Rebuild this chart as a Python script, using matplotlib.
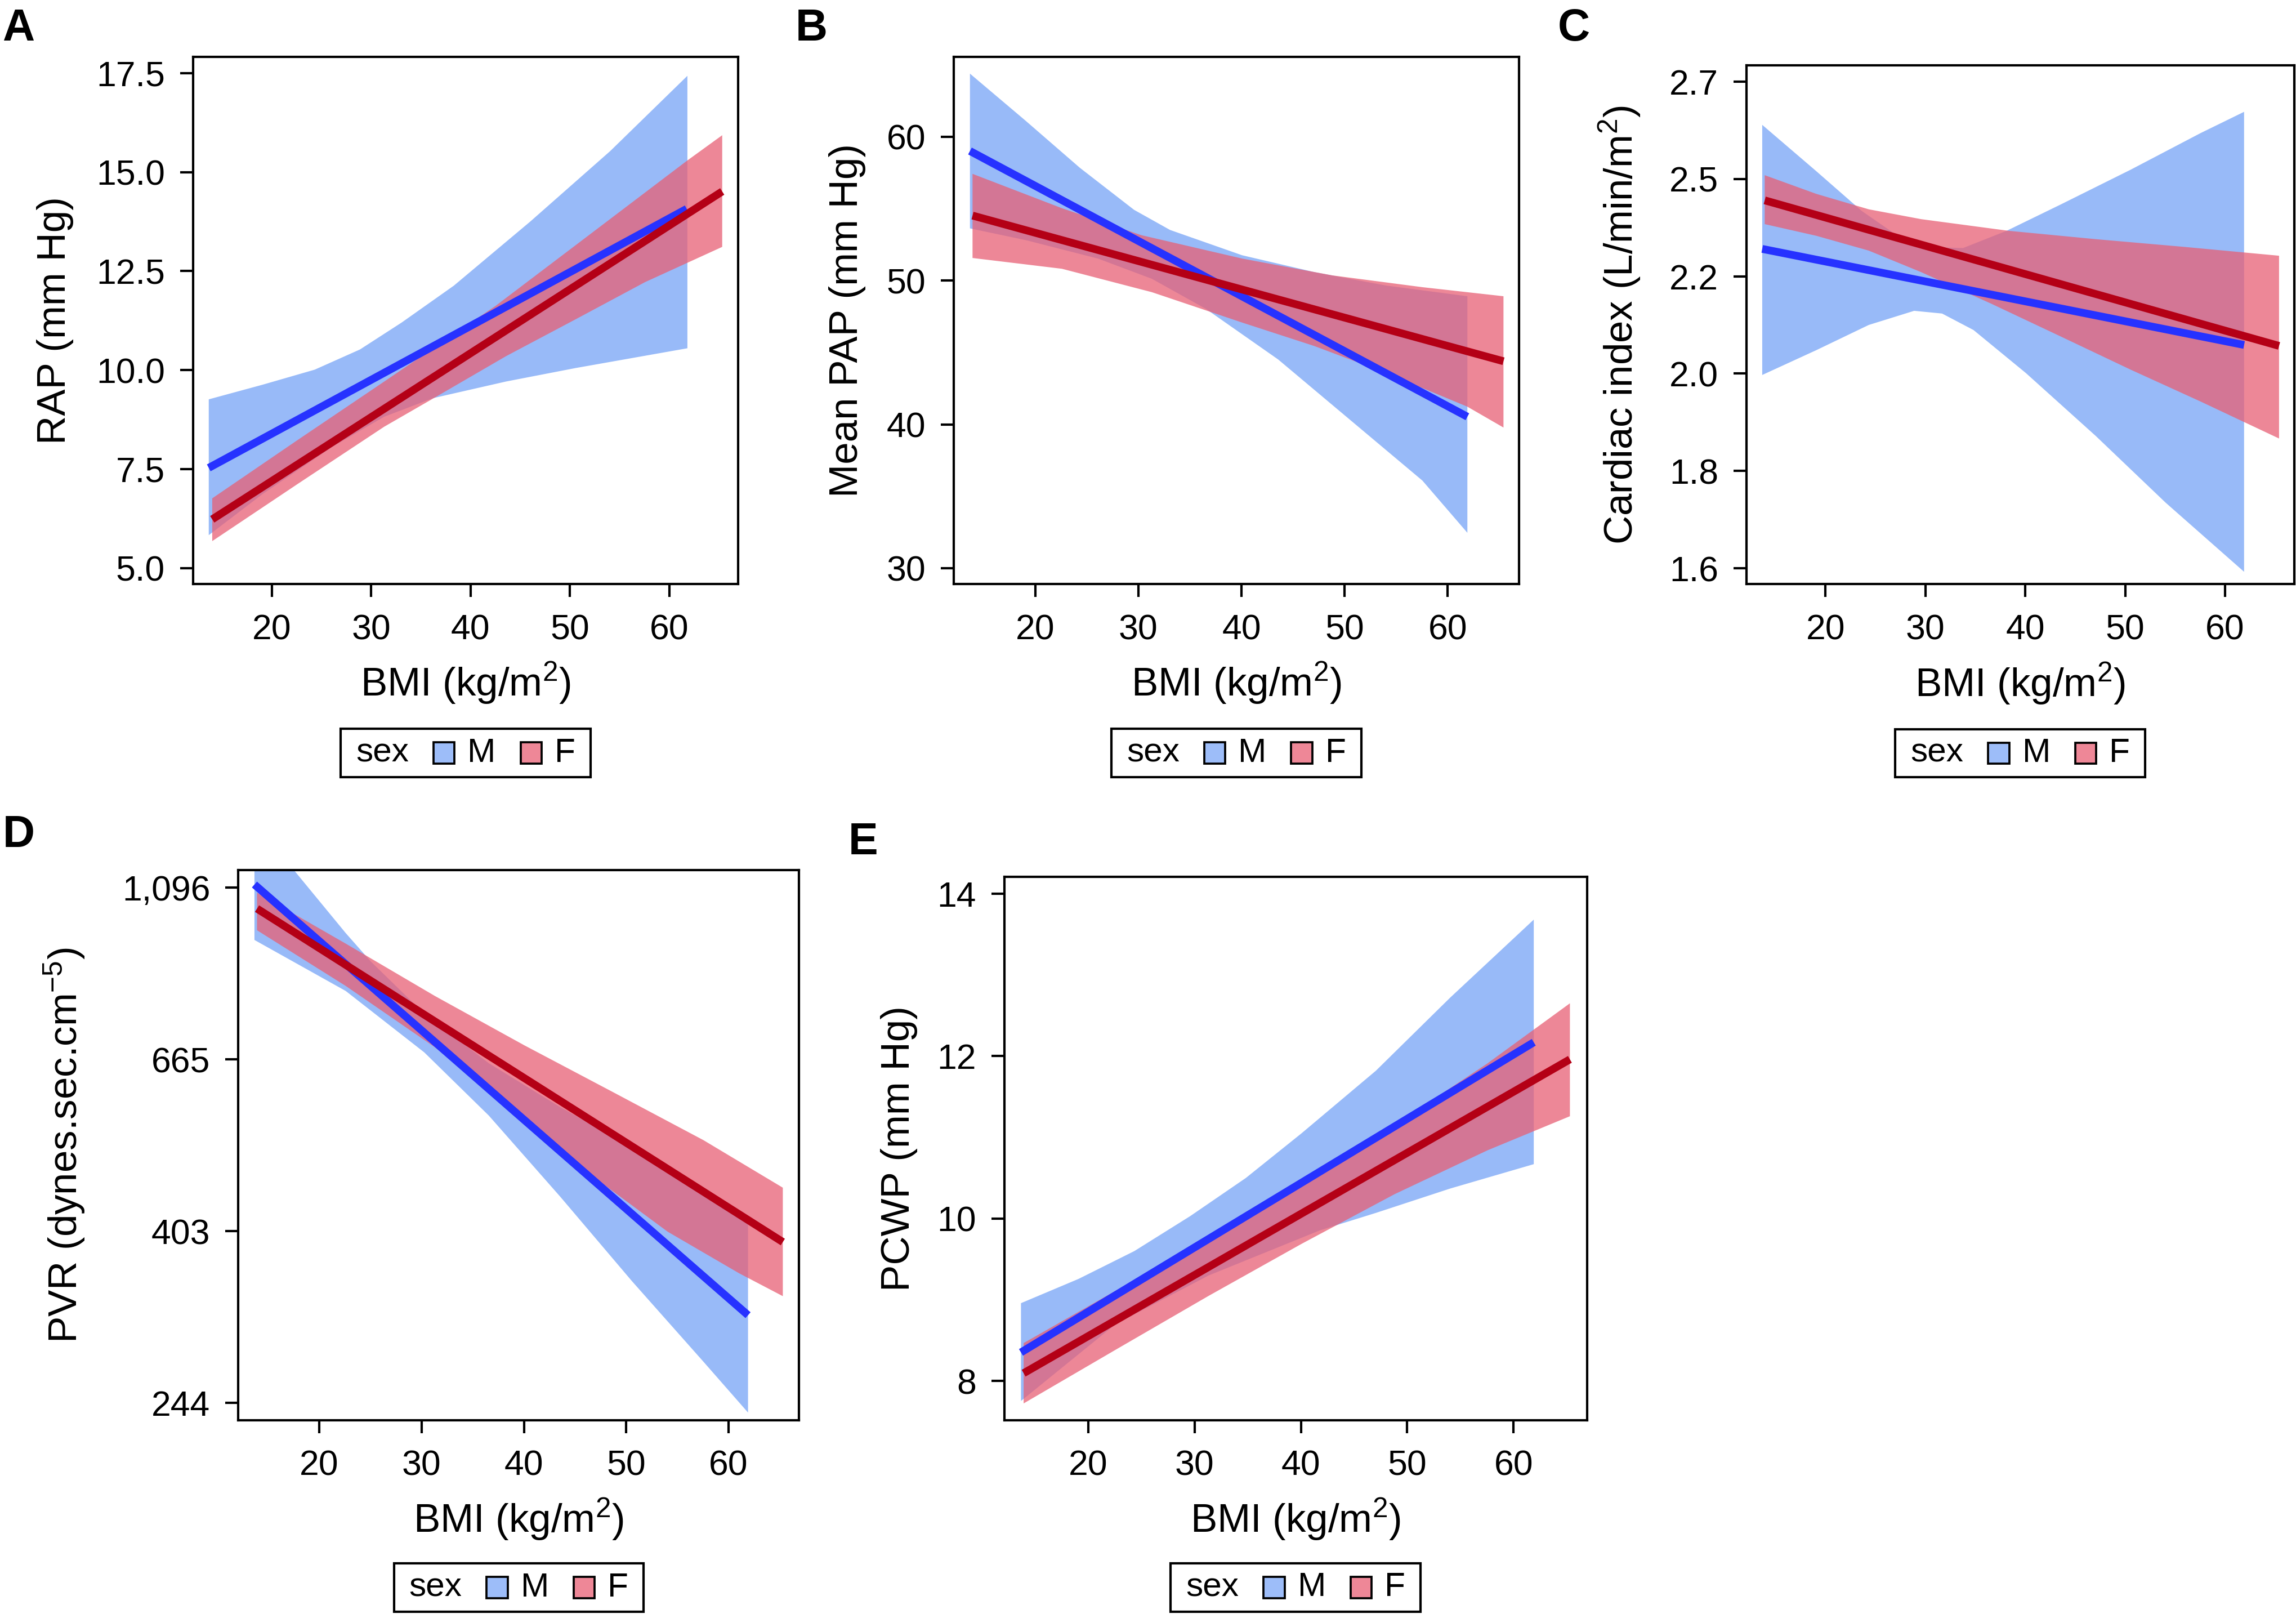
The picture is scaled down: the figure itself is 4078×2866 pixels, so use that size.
import numpy as np
import matplotlib.pyplot as plt
from matplotlib.patches import Rectangle
from matplotlib.ticker import NullLocator
from matplotlib.offsetbox import AnchoredOffsetbox, HPacker, TextArea, DrawingArea

plt.rcParams['font.family'] = 'Liberation Sans'
plt.rcParams['mathtext.fontset'] = 'custom'
plt.rcParams['mathtext.rm'] = 'Liberation Sans'
plt.rcParams['mathtext.it'] = 'Liberation Sans:italic'
plt.rcParams['mathtext.bf'] = 'Liberation Sans:bold'

# ---- A: RAP ----
a_m_line_x = [13.67, 61.73]
a_m_line_y = [7.53, 14.07]
a_m_up_x = [13.67, 19.09, 24.33, 28.88, 33.07, 38.31, 46.0, 54.04, 61.8]
a_m_up_y = [9.26, 9.63, 10.01, 10.52, 11.20, 12.13, 13.75, 15.53, 17.43]
a_m_lo_x = [13.67, 19.09, 26.08, 31.3, 36.22, 43.56, 50.55, 61.8]
a_m_lo_y = [5.83, 6.87, 8.06, 8.82, 9.29, 9.71, 10.05, 10.55]
a_f_line_x = [14.02, 65.3]
a_f_line_y = [6.23, 14.51]
a_f_up_x = [14.02, 22.59, 31.32, 42.51, 50.55, 61.73, 65.3]
a_f_up_y = [6.76, 8.23, 9.71, 11.62, 13.15, 15.28, 15.93]
a_f_lo_x = [14.02, 22.59, 31.32, 36.57, 43.56, 50.55, 57.54, 65.3]
a_f_lo_y = [5.68, 7.12, 8.57, 9.33, 10.35, 11.28, 12.22, 13.11]

# ---- B: mean PAP ----
b_m_line_x = [13.67, 61.9]
b_m_line_y = [59.01, 40.53]
b_m_up_x = [13.67, 19.09, 24.33, 29.58, 33.07, 40.06, 47.05, 54.04, 61.9]
b_m_up_y = [64.39, 61.1, 57.84, 54.92, 53.52, 51.76, 50.59, 49.65, 48.91]
b_m_lo_x = [13.67, 19.09, 26.08, 31.32, 36.57, 43.56, 50.55, 57.54, 61.9]
b_m_lo_y = [53.63, 52.81, 51.53, 50.12, 48.02, 44.51, 40.3, 36.09, 32.46]
b_f_line_x = [13.92, 65.4]
b_f_line_y = [54.52, 44.39]
b_f_up_x = [13.92, 22.59, 30.27, 40.06, 48.8, 57.54, 65.4]
b_f_up_y = [57.42, 55.03, 53.16, 51.53, 50.36, 49.54, 48.91]
b_f_lo_x = [13.92, 22.59, 31.32, 40.06, 47.05, 54.04, 61.9, 65.4]
b_f_lo_y = [51.57, 50.82, 49.19, 47.08, 45.45, 43.57, 41.23, 39.78]

# ---- C: cardiac index (log scale) ----
c_m_line_x = [13.67, 61.9]
c_m_line_y = [2.289, 2.074]
c_m_up_x = [13.67, 19.09, 23.63, 27.83, 30.62, 33.77, 38.14, 43.56, 50.55, 57.54, 61.9]
c_m_up_y = [2.600, 2.479, 2.380, 2.310, 2.293, 2.291, 2.332, 2.396, 2.483, 2.578, 2.635]
c_m_lo_x = [13.67, 19.09, 24.33, 28.88, 31.67, 34.82, 40.06, 47.05, 54.04, 61.9]
c_m_lo_y = [2.011, 2.063, 2.117, 2.148, 2.142, 2.106, 2.015, 1.889, 1.764, 1.643]
c_f_line_x = [13.92, 65.4]
c_f_line_y = [2.406, 2.072]
c_f_up_x = [13.92, 19.09, 24.33, 29.58, 38.31, 47.05, 55.78, 65.4]
c_f_up_y = [2.469, 2.422, 2.384, 2.360, 2.332, 2.312, 2.294, 2.273]
c_f_lo_x = [13.92, 19.09, 24.33, 29.58, 36.57, 43.56, 50.55, 57.54, 65.4]
c_f_lo_y = [2.348, 2.320, 2.285, 2.235, 2.164, 2.092, 2.022, 1.957, 1.884]

# ---- D: PVR (log scale) ----
d_m_line_x = [13.67, 61.9]
d_m_line_y = [1107, 316]
d_m_up_x = [13.67, 17.51, 22.59, 25.03, 30.27, 36.57, 43.56, 50.55, 57.54, 61.9]
d_m_up_y = [1312, 1155, 961, 885, 760, 658, 579, 515, 458, 412]
d_m_lo_x = [13.67, 22.59, 30.27, 36.57, 43.56, 50.55, 57.54, 61.9]
d_m_lo_y = [942, 812, 679, 565, 446, 349, 276, 238]
d_f_line_x = [13.92, 65.3]
d_f_line_y = [1032, 391]
d_f_up_x = [13.92, 22.59, 31.32, 40.06, 48.8, 57.54, 65.3]
d_f_up_y = [1081, 932, 800, 693, 604, 526, 458]
d_f_lo_x = [13.92, 22.59, 31.32, 40.06, 47.05, 54.04, 61.03, 65.3]
d_f_lo_y = [969, 824, 689, 559, 470, 403, 357, 334]

# ---- E: PCWP ----
e_m_line_x = [13.67, 61.9]
e_m_line_y = [8.353, 12.17]
e_m_up_x = [13.67, 19.09, 24.33, 29.58, 34.82, 40.06, 47.05, 54.04, 61.9]
e_m_up_y = [8.959, 9.258, 9.60, 10.03, 10.50, 11.05, 11.82, 12.72, 13.68]
e_m_lo_x = [13.67, 22.59, 31.32, 41.8, 47.05, 54.04, 61.9]
e_m_lo_y = [7.755, 8.703, 9.30, 9.856, 10.07, 10.37, 10.67]
e_f_line_x = [13.92, 65.3]
e_f_line_y = [8.097, 11.96]
e_f_up_x = [13.92, 22.59, 31.32, 40.06, 48.8, 57.54, 65.3]
e_f_up_y = [8.468, 9.113, 9.766, 10.44, 11.15, 11.91, 12.65]
e_f_lo_x = [13.92, 22.59, 31.32, 40.06, 48.8, 57.54, 65.3]
e_f_lo_y = [7.725, 8.387, 9.049, 9.689, 10.30, 10.84, 11.26]

x_ticks = [20, 30, 40, 50, 60]
a_ticks = [5.0, 7.5, 10.0, 12.5, 15.0, 17.5]
a_labels = ['5.0', '7.5', '10.0', '12.5', '15.0', '17.5']
b_ticks = [30, 40, 50, 60]
c_ticks_ln = [0.5, 0.6, 0.7, 0.8, 0.9, 1.0]
c_labels = ['1.6', '1.8', '2.0', '2.2', '2.5', '2.7']
d_ticks_ln = [5.5, 6.0, 6.5, 7.0]
d_labels = ['244', '403', '665', '1,096']
e_ticks = [8, 10, 12, 14]

M_BAND = (97/255, 150/255, 245/255)
F_BAND = (232/255, 95/255, 116/255)
M_KEY = '#9DBDF9'
F_KEY = '#EE8797'
M_LINE = '#2632FF'
F_LINE = '#B40016'

TICK_FS = 15
LABEL_FS = 17
XLIM = (12.1, 66.9)

fig = plt.figure(figsize=(4079 / 300, 2866 / 300), dpi=300)


def band(ax, ux, uy, lx, ly, color, alpha):
    xs = list(ux) + list(lx)[::-1]
    ys = list(uy) + list(ly)[::-1]
    ax.fill(xs, ys, color=color, alpha=alpha, lw=0)


def add_legend(ax, y):
    fs = 14.5
    kids = [TextArea('sex', textprops=dict(fontsize=fs))]
    for col, lab in [(M_KEY, 'M'), (F_KEY, 'F')]:
        da = DrawingArea(9, 9, 0, 0)
        da.add_artist(Rectangle((0, 0), 9, 9, facecolor=col, edgecolor='black', lw=0.9))
        kids.append(HPacker(children=[da, TextArea(lab, textprops=dict(fontsize=fs))],
                            sep=5.5, align='center', pad=0))
    inner = HPacker(children=kids, sep=10.5, align='center', pad=0)
    box = HPacker(children=[DrawingArea(2.8, 1), inner, DrawingArea(2.8, 1)],
                  sep=0, align='center', pad=0)
    ab = AnchoredOffsetbox(loc='upper center', child=box, pad=0.37, borderpad=0,
                           frameon=True, bbox_to_anchor=(0.5, y),
                           bbox_transform=ax.transAxes)
    ab.patch.set_linewidth(1.0)
    ab.patch.set_edgecolor('black')
    ax.add_artist(ab)


def panel(rect, m, f, ylab, ylab_x, xlab_y, leg_y, log=False):
    ax = fig.add_axes(rect)
    band(ax, m[2], m[3], m[4], m[5], M_BAND, 0.65)
    band(ax, f[2], f[3], f[4], f[5], F_BAND, 0.75)
    ax.plot(m[0], m[1], color=M_LINE, lw=3.3, solid_capstyle='butt')
    ax.plot(f[0], f[1], color=F_LINE, lw=3.3, solid_capstyle='butt')
    if log:
        ax.set_yscale('log')
    ax.set_xlim(*XLIM)
    ax.set_xticks(x_ticks)
    ax.tick_params(axis='both', direction='out', length=5.5, width=1.0,
                   labelsize=TICK_FS, color='black')
    ax.tick_params(axis='x', pad=6.9)
    ax.tick_params(axis='y', pad=6.5)
    for s in ax.spines.values():
        s.set_linewidth(1.0)
    ax.set_xlabel('BMI (kg/m$^2$)', fontsize=LABEL_FS)
    ax.set_ylabel(ylab, fontsize=LABEL_FS)
    ax.xaxis.set_label_coords(0.5, xlab_y)
    ax.yaxis.set_label_coords(ylab_x, 0.5)
    add_legend(ax, leg_y)
    return ax


ax = panel([0.0841, 0.638, 0.2373, 0.3268],
           (a_m_line_x, a_m_line_y, a_m_up_x, a_m_up_y, a_m_lo_x, a_m_lo_y),
           (a_f_line_x, a_f_line_y, a_f_up_x, a_f_up_y, a_f_lo_x, a_f_lo_y),
           'RAP (mm Hg)', -0.219, -0.144, -0.274)
ax.set_yticks(a_ticks)
ax.set_yticklabels(a_labels)
ax.set_ylim(4.59, 17.91)

ax = panel([0.4153, 0.638, 0.2461, 0.3268],
           (b_m_line_x, b_m_line_y, b_m_up_x, b_m_up_y, b_m_lo_x, b_m_lo_y),
           (b_f_line_x, b_f_line_y, b_f_up_x, b_f_up_y, b_f_lo_x, b_f_lo_y),
           'Mean PAP (mm Hg)', -0.155, -0.144, -0.274)
ax.set_yticks(b_ticks)
ax.set_ylim(28.88, 65.56)

ax = panel([0.7605, 0.638, 0.2384, 0.3215],
           (c_m_line_x, c_m_line_y, c_m_up_x, c_m_up_y, c_m_lo_x, c_m_lo_y),
           (c_f_line_x, c_f_line_y, c_f_up_x, c_f_up_y, c_f_lo_x, c_f_lo_y),
           'Cardiac index (L/min/m$^2$)', -0.190, -0.147, -0.279, log=True)
ax.yaxis.set_minor_locator(NullLocator())
ax.set_yticks(np.exp(c_ticks_ln))
ax.set_yticklabels(c_labels)
ax.set_ylim(np.exp(0.4837), np.exp(1.0166))

ax = panel([0.1038, 0.12, 0.2442, 0.341],
           (d_m_line_x, d_m_line_y, d_m_up_x, d_m_up_y, d_m_lo_x, d_m_lo_y),
           (d_f_line_x, d_f_line_y, d_f_up_x, d_f_up_y, d_f_lo_x, d_f_lo_y),
           'PVR (dynes.sec.cm$^{-5}$)', -0.2696, -0.138, -0.26, log=True)
ax.yaxis.set_minor_locator(NullLocator())
ax.set_yticks(np.exp(d_ticks_ln))
ax.set_yticklabels(d_labels)
ax.set_ylim(np.exp(5.4497), np.exp(7.0518))

ax = panel([0.4373, 0.12, 0.2537, 0.3369],
           (e_m_line_x, e_m_line_y, e_m_up_x, e_m_up_y, e_m_lo_x, e_m_lo_y),
           (e_f_line_x, e_f_line_y, e_f_up_x, e_f_up_y, e_f_lo_x, e_f_lo_y),
           'PCWP (mm Hg)', -0.149, -0.140, -0.263)
ax.set_yticks(e_ticks)
ax.set_ylim(7.517, 14.21)

W, H = 4079, 2866
for lab, px, py in [('A', 4, 14), ('B', 1413, 14), ('C', 2767, 14),
                    ('D', 5, 1446), ('E', 1507, 1459)]:
    fig.text(px / W, 1 - py / H, lab, fontsize=19, fontweight='bold',
             ha='left', va='top')

fig.savefig('out.png', dpi=300)
